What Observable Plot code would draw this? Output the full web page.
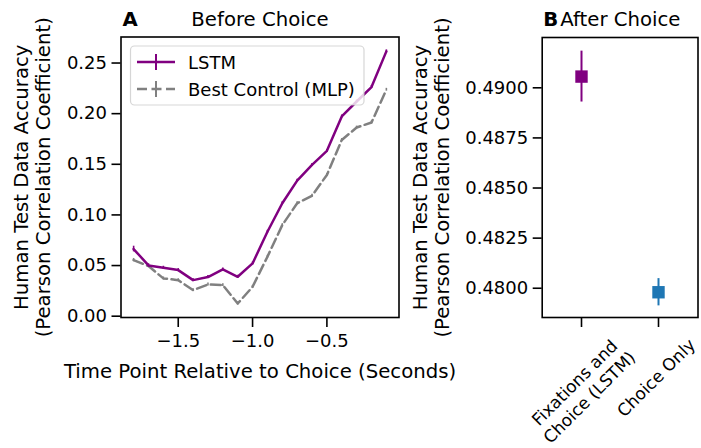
<!DOCTYPE html>
<html><head><meta charset="utf-8">
<script src="https://cdn.jsdelivr.net/npm/d3@7"></script>
<script src="https://cdn.jsdelivr.net/npm/@observablehq/plot@0.6"></script>
<style>
body{margin:0;background:#fff;}
#wrap{position:relative;width:701px;height:448px;font-family:"DejaVu Sans";overflow:hidden;}
#left,#right,#overlay{position:absolute;top:0;}
#left{left:0}
#right{left:410px}
#overlay{left:0;pointer-events:none}
</style></head><body>
<div id="wrap"><div id="left"></div><div id="right"></div>
<svg id="overlay" width="701" height="448" font-family="DejaVu Sans"></svg></div>
<script>
// ---- data ----
const timePoints = [-1.8,-1.7,-1.6,-1.5,-1.4,-1.3,-1.2,-1.1,-1.0,-0.9,-0.8,-0.7,-0.6,-0.5,-0.4,-0.3,-0.2,-0.1];
const lstmAcc = [0.0663,0.0501,0.0478,0.0455,0.0356,0.0386,0.0462,0.0389,0.0521,0.0834,0.1115,0.1339,0.1494,0.1633,0.1972,0.2120,0.2263,0.2615];
const lstmErr = [0.0028,0.0016,0.0015,0.0015,0.0014,0.0015,0.0014,0.0015,0.0015,0.0014,0.0015,0.0014,0.0015,0.0014,0.0015,0.0014,0.0015,0.0015];
const mlpAcc = [0.0554,0.0495,0.0373,0.0356,0.0257,0.0313,0.0307,0.0125,0.0290,0.0587,0.0900,0.1115,0.1190,0.1395,0.1740,0.1863,0.1913,0.2236];
const mlpErr = [0.0016,0.0014,0.0014,0.0014,0.0014,0.0014,0.0014,0.0014,0.0014,0.0014,0.0014,0.0014,0.0014,0.0014,0.0014,0.0014,0.0014,0.0014];
const seriesNames = ["LSTM", "Best Control (MLP)"];
const afterCategories = ["Fixations and\nChoice (LSTM)", "Choice Only"];
const afterAcc = [0.49056, 0.47980];
const afterErr = [0.00127, 0.00068];
const afterColors = ["purple", "#1f77b4"];
const leftXTicks = [-1.5, -1.0, -0.5];
const leftYTicks = [0, 0.05, 0.10, 0.15, 0.20, 0.25];
const rightYTicks = [0.48, 0.4825, 0.485, 0.4875, 0.49];
const yLabel = "Human Test Data Accuracy\n(Pearson Correlation Coefficient)";
const xLabel = "Time Point Relative to Choice (Seconds)";

const TICK = 18;   // tick labels & legend
const LAB = 19.7;  // axis labels & titles
const ROT = 17;    // rotated category labels
const FONT = "DejaVu Sans";
const lstm = timePoints.map((t, i) => ({t, v: lstmAcc[i], e: lstmErr[i]}));
const mlp = timePoints.map((t, i) => ({t, v: mlpAcc[i], e: mlpErr[i]}));
const after = afterCategories.map((c, i) => ({c, v: afterAcc[i], e: afterErr[i], col: afterColors[i]}));

const style = {fontFamily: FONT, fontSize: TICK + "px", color: "#000", background: "transparent", overflow: "visible"};

const left = Plot.plot({
  width: 410, height: 448,
  marginLeft: 120.5, marginRight: 11.5, marginTop: 36.5, marginBottom: 131,
  style,
  x: {domain: [-1.885, -0.015]},
  y: {domain: [-0.0013, 0.2757]},
  marks: [
    Plot.line(mlp, {x: "t", y: "v", stroke: "gray", strokeWidth: 2.5, strokeDasharray: "10,4.5"}),
    Plot.ruleX(mlp, {x: "t", y1: d => d.v - d.e, y2: d => d.v + d.e, stroke: "gray", strokeWidth: 1.6}),
    Plot.line(lstm, {x: "t", y: "v", stroke: "purple", strokeWidth: 2.5}),
    Plot.ruleX(lstm, {x: "t", y1: d => d.v - d.e, y2: d => d.v + d.e, stroke: "purple", strokeWidth: 1.6}),
    Plot.frame({stroke: "#000", strokeWidth: 1.6}),
    Plot.axisX({ticks: leftXTicks, tickFormat: d3.format(".1f"), tickSize: 10, tickPadding: 7, strokeWidth: 1.6, fontSize: TICK, label: null}),
    Plot.axisY({ticks: leftYTicks, tickFormat: d3.format(".2f"), tickSize: 9, tickPadding: 5, strokeWidth: 1.6, fontSize: TICK, label: null}),
    Plot.text([yLabel], {text: d => d, frameAnchor: "left", rotate: -90, dx: 49.5 - 120.5, lineAnchor: "bottom", lineHeight: 1.117, textAnchor: "middle", fontSize: LAB}),
    Plot.text([xLabel], {text: d => d, frameAnchor: "bottom", dy: 60, lineAnchor: "bottom", textAnchor: "middle", fontSize: LAB}),
    Plot.text(["A"], {text: d => d, frameAnchor: "top-left", dx: 1.5, dy: -11.5, lineAnchor: "bottom", textAnchor: "start", fontSize: LAB, fontWeight: "bold"}),
    Plot.text(["Before Choice"], {text: d => d, frameAnchor: "top", dy: -11.5, lineAnchor: "bottom", textAnchor: "middle", fontSize: LAB})
  ]
});
document.getElementById("left").appendChild(left);

const right = Plot.plot({
  width: 291, height: 448,
  marginLeft: 131.7, marginRight: 3.5, marginTop: 37, marginBottom: 131,
  style,
  x: {type: "point", domain: afterCategories, padding: 0.5},
  y: {domain: [0.47854, 0.49251]},
  color: {type: "identity"},
  marks: [
    Plot.ruleX(after, {x: "c", y1: d => d.v - d.e, y2: d => d.v + d.e, stroke: "col", strokeWidth: 2}),
    Plot.dot(after, {x: "c", y: "v", symbol: "square", r: 7, fill: "col"}),
    Plot.frame({stroke: "#000", strokeWidth: 1.6}),
    Plot.axisX({tickSize: 10, tickFormat: () => "", strokeWidth: 1.6, label: null}),
    Plot.axisY({ticks: rightYTicks, tickFormat: d3.format(".4f"), tickSize: 9, tickPadding: 5, strokeWidth: 1.6, fontSize: TICK, label: null}),
    Plot.text([after[0]], {x: "c", text: "c", frameAnchor: "bottom", rotate: -45, textAnchor: "middle", lineAnchor: "middle", lineHeight: 1.22, dy: 72, fontSize: ROT}),
    Plot.text([after[1]], {x: "c", text: "c", frameAnchor: "bottom", rotate: -45, textAnchor: "middle", lineAnchor: "middle", dx: -2, dy: 60.5, fontSize: ROT}),
    Plot.text([yLabel], {text: d => d, frameAnchor: "left", rotate: -90, dx: 38 - 131.7, lineAnchor: "bottom", lineHeight: 1.117, textAnchor: "middle", fontSize: LAB}),
    Plot.text(["B"], {text: d => d, frameAnchor: "top-left", dx: 1, dy: -12, lineAnchor: "bottom", textAnchor: "start", fontSize: LAB, fontWeight: "bold"}),
    Plot.text(["After Choice"], {text: d => d, frameAnchor: "top-left", dx: 18, dy: -12, lineAnchor: "bottom", textAnchor: "start", fontSize: LAB})
  ]
});
document.getElementById("right").appendChild(right);

// ---- legend (overlay) ----
const ov = d3.select("#overlay");
ov.append("rect").attr("x", 130.5).attr("y", 46).attr("width", 233.5).attr("height", 59).attr("rx", 4)
  .attr("fill", "#fff").attr("fill-opacity", 0.8).attr("stroke", "#ccc").attr("stroke-opacity", 0.8).attr("stroke-width", 1.2);
const legItems = [
  {name: seriesNames[0], color: "purple", dash: null, y: 62},
  {name: seriesNames[1], color: "gray", dash: "10,4.5", y: 89}
];
legItems.forEach(it => {
  ov.append("line").attr("x1", 137).attr("x2", 175).attr("y1", it.y).attr("y2", it.y)
    .attr("stroke", it.color).attr("stroke-width", 2.5).attr("stroke-dasharray", it.dash);
  ov.append("line").attr("x1", 156).attr("x2", 156).attr("y1", it.y - 8).attr("y2", it.y + 8)
    .attr("stroke", it.color).attr("stroke-width", 2);
  ov.append("text").attr("x", 188).attr("y", it.y + 6.5).attr("font-size", TICK).attr("fill", "#000").text(it.name);
});
</script></body></html>
